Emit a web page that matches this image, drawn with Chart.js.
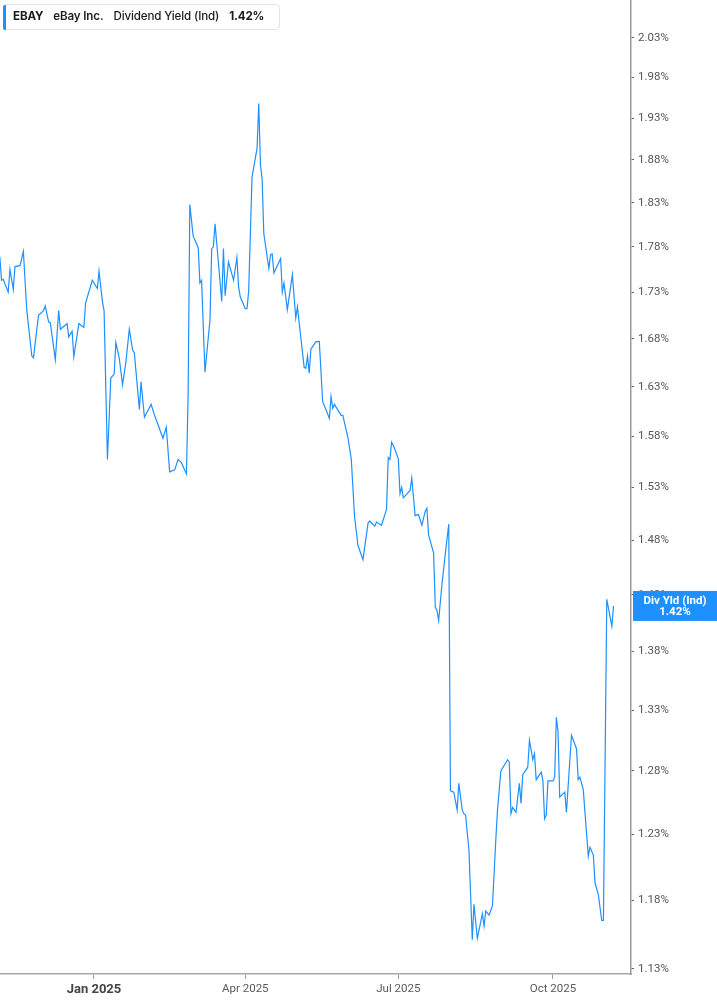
<!DOCTYPE html>
<html><head><meta charset="utf-8">
<script src="https://cdn.jsdelivr.net/npm/chart.js@4.4.0/dist/chart.umd.min.js"></script>
<style>
html,body{margin:0;padding:0;background:#fff;}
#wrap{position:relative;width:717px;height:1005px;overflow:hidden;}
#c{position:absolute;left:0;top:0;}
#hdr{position:absolute;left:3px;top:4px;width:277px;height:26px;box-sizing:border-box;border:1px solid #e4e4e4;border-radius:4px;background:#fff;}
#bar{position:absolute;left:3px;top:5px;width:3px;height:25px;background:#1e90ff;border-radius:2px 0 0 2px;}
#htxt{position:absolute;left:13px;top:8px;display:flex;font-family:Inter,"Noto Sans",sans-serif;font-size:11.6px;line-height:16px;color:#1c1c1c;white-space:nowrap;letter-spacing:-0.15px;}
#htxt span{margin-right:10px;}
</style></head>
<body>
<div id="wrap">
<canvas id="c" width="717" height="1005"></canvas>
<div id="hdr"></div><div id="bar"></div>
<div id="htxt">
<span style="font-weight:700">EBAY</span>
<span style="font-weight:600">eBay Inc.</span>
<span style="font-weight:500">Dividend Yield (Ind)</span>
<span id="h4" style="font-weight:700"></span>
</div>
</div>
<script>
// days since 2025-01-01 (calendar days)
const days = [
 -56,-55,-54,-51,-50,-48,-47,-44,-42,-40,
 -37,-36,-33,-30,-29,-27,-26,-23,-21,-20,
 -16,-15,-13,-12,-9,-6,-5,-1,2,3,
 5,6,8,10,12,13,15,17,19,21,
 23,24,27,28,30,34,36,38,41,43,
 45,48,50,52,55,56,57,59,62,63,
 64,66,69,70,71,72,76,77,78,80,
 83,85,86,87,90,91,92,94,97,98,
 99,100,101,104,105,106,107,111,112,113,
 115,118,120,121,125,126,127,128,129,132,
 134,136,140,141,142,143,147,148,151,153,
 155,157,160,163,164,167,168,171,174,175,
 176,177,178,181,182,183,184,188,189,191,
 193,195,197,198,199,202,203,204,205,207,
 209,211,212,214,216,217,219,220,221,223,
 225,226,228,231,232,233,235,237,239,240,
 242,246,247,248,249,251,253,254,255,258,
 259,261,262,263,266,267,268,269,270,273,
 274,275,276,277,280,281,284,287,288,289,
 291,294,295,297,298,300,302,303,305,308,
 309
];
// dividend yield (%)
const yieldValues = [
 1.769,1.743,1.744,1.730,1.755,1.733,1.758,1.759,1.775,1.711,
 1.662,1.660,1.705,1.710,1.715,1.698,1.697,1.658,1.710,1.690,
 1.696,1.682,1.688,1.661,1.696,1.692,1.718,1.743,1.734,1.753,
 1.720,1.710,1.557,1.639,1.643,1.676,1.660,1.632,1.656,1.690,
 1.668,1.665,1.607,1.635,1.599,1.612,1.601,1.592,1.578,1.589,
 1.545,1.547,1.557,1.554,1.543,1.623,1.828,1.792,1.779,1.740,
 1.743,1.645,1.700,1.778,1.780,1.806,1.720,1.778,1.726,1.763,
 1.743,1.768,1.736,1.725,1.712,1.712,1.731,1.860,1.894,1.948,
 1.874,1.858,1.795,1.756,1.771,1.772,1.751,1.767,1.730,1.740,
 1.711,1.749,1.702,1.714,1.650,1.649,1.662,1.644,1.669,1.677,
 1.677,1.615,1.598,1.620,1.608,1.612,1.601,1.601,1.579,1.558,
 1.502,1.475,1.462,1.496,1.498,1.493,1.497,1.494,1.509,1.559,
 1.557,1.574,1.571,1.558,1.524,1.530,1.520,1.527,1.539,1.503,
 1.504,1.494,1.507,1.510,1.485,1.468,1.419,1.416,1.407,1.440,
 1.468,1.495,1.264,1.263,1.249,1.270,1.249,1.246,1.245,1.218,
 1.151,1.177,1.152,1.170,1.161,1.172,1.169,1.176,1.226,1.249,
 1.280,1.289,1.287,1.246,1.251,1.247,1.270,1.254,1.277,1.283,
 1.305,1.289,1.294,1.273,1.279,1.272,1.242,1.245,1.272,1.272,
 1.275,1.324,1.312,1.259,1.263,1.247,1.309,1.298,1.273,1.275,
 1.265,1.213,1.220,1.214,1.193,1.184,1.165,1.165,1.426,1.402,
 1.420
];
const yTickValues = [1.13,1.18,1.23,1.28,1.33,1.38,1.43,1.48,1.53,1.58,1.63,1.68,1.73,1.78,1.83,1.88,1.93,1.98,2.03];
const xTickDays = [0,90,181,273];
const xTickLabels = ['Jan 2025','Apr 2025','Jul 2025','Oct 2025'];
const seriesLabel = 'Div Yld (Ind)';
const lineColor = '#1e90ff';

const n = Math.min(days.length, yieldValues.length);
const pts = [];
for (let i = 0; i < n; i++) pts.push({x: days[i], y: yieldValues[i]});
const lastVal = yieldValues[n-1];
document.getElementById('h4').textContent = lastVal.toFixed(2) + '%';

const lastLabel = {
  id: 'lastLabel',
  afterDraw(chart) {
    const ys = chart.scales.y, ctx = chart.ctx;
    const py = ys.getPixelForValue(lastVal);
    const left = chart.chartArea.right + 2, w = chart.width - left;
    ctx.save();
    ctx.fillStyle = lineColor;
    ctx.fillRect(left, py - 15, w, 30);
    ctx.fillStyle = '#fff';
    ctx.font = 'bold 11.5px Roboto';
    ctx.textAlign = 'center';
    ctx.textBaseline = 'middle';
    ctx.fillText(seriesLabel, left + w/2, py - 4.5);
    ctx.fillText(lastVal.toFixed(2) + '%', left + w/2, py + 6.5);
    ctx.restore();
  }
};

new Chart(document.getElementById('c'), {
  type: 'line',
  data: { datasets: [{ label: seriesLabel, data: pts, borderColor: lineColor, borderWidth: 1.2, pointRadius: 0, tension: 0, fill: false }] },
  options: {
    responsive: false, animation: false,
    layout: { padding: 0 },
    plugins: { legend: { display: false }, tooltip: { enabled: false } },
    scales: {
      x: {
        type: 'linear', min: -55.9, max: 319.4,
        afterBuildTicks(s) { s.ticks = xTickDays.map(v => ({value: v})); },
        afterFit(s) { s.height = 31; s.paddingLeft = 0; s.paddingRight = 0; },
        grid: { drawOnChartArea: false, drawTicks: true, tickLength: 5, color: '#9a9a9a' },
        border: { display: true, color: '#a8a8a8', width: 1.5 },
        ticks: {
          autoSkip: false, maxRotation: 0, padding: 3,
          callback: (v, i) => xTickLabels[i],
          color: (c) => (c.tick && c.tick.value === 0) ? '#444' : '#5a5a5a',
          font: (c) => (c.tick && c.tick.value === 0) ? {family: 'Roboto', size: 13, weight: 'bold'} : {family: 'Roboto', size: 11.5}
        }
      },
      y: {
        type: 'logarithmic', position: 'right', min: 1.12645, max: 2.0791,
        afterBuildTicks(s) { s.ticks = yTickValues.map(v => ({value: v})); },
        afterFit(s) { s.width = 86; s.paddingTop = 0; s.paddingBottom = 0; },
        grid: { drawOnChartArea: false, drawTicks: true, tickLength: 3, color: '#666' },
        border: { display: true, color: '#9a9a9a', width: 1.5 },
        ticks: {
          autoSkip: false, padding: 4, color: '#555',
          font: {family: 'Roboto', size: 11.5},
          callback: (v) => Number(v).toFixed(2) + '%'
        }
      }
    }
  },
  plugins: [lastLabel]
});
</script>
</body></html>
